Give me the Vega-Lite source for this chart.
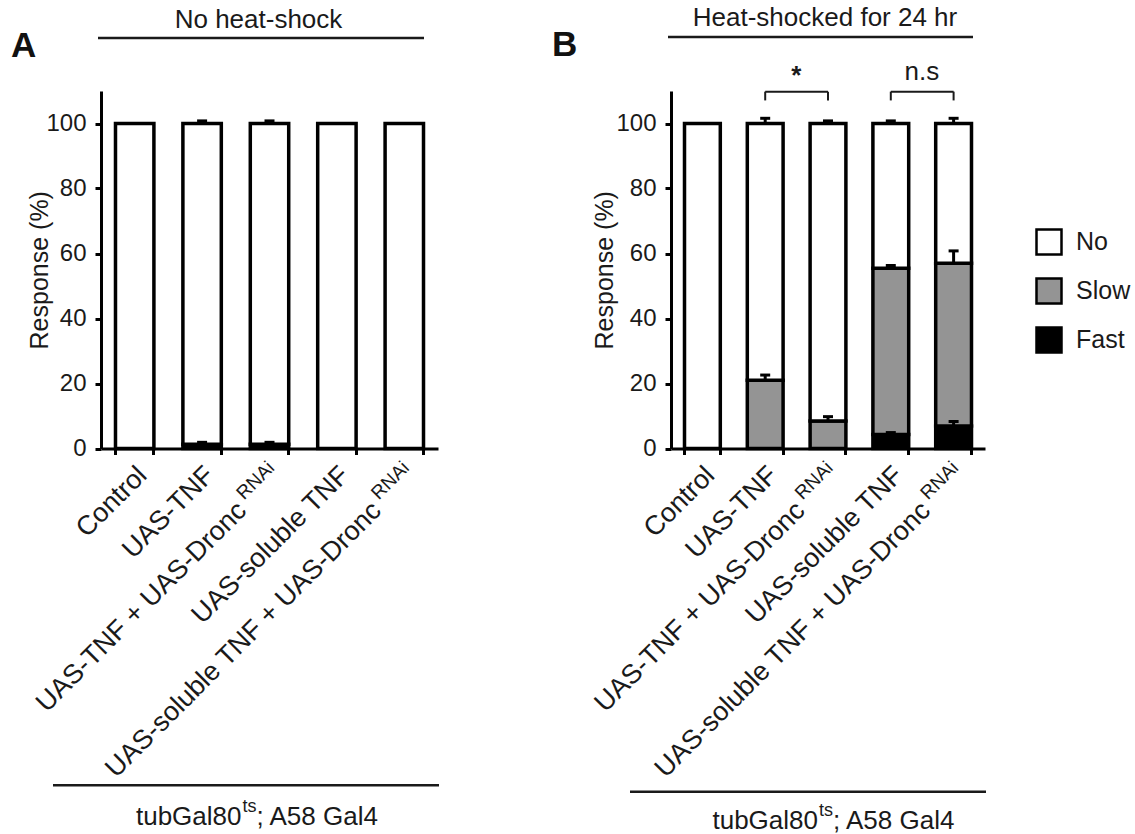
{
  "$schema": "https://vega.github.io/schema/vega-lite/v6.json",
  "padding": {"left": 10, "top": 5, "right": 5, "bottom": 0},
  "background": "white",
  "bounds": "flush",
  "spacing": 233,
  "resolve": {"scale": {"color": "independent"}, "legend": {"color": "independent"}},
  "config": {
    "view": {"stroke": null},
    "font": "Liberation Sans",
    "text": {"font": "Liberation Sans", "color": "#1a1a1a"},
    "axis": {"domainColor": "black", "tickColor": "black", "labelColor": "#1a1a1a", "titleColor": "#1a1a1a", "grid": false, "labelFont": "Liberation Sans", "titleFont": "Liberation Sans"},
    "legend": {"labelFont": "Liberation Sans"}
  },
  "datasets": {
    "barsA": [
      {"g": "Control", "r": "No", "lo": 0, "hi": 100, "eh": null},
      {"g": "TNF", "r": "Fast", "lo": 0, "hi": 1.3, "eh": 1.9},
      {"g": "TNF", "r": "No", "lo": 1.3, "hi": 100, "eh": 100.8},
      {"g": "TNF+RNAi", "r": "Fast", "lo": 0, "hi": 1.3, "eh": 1.9},
      {"g": "TNF+RNAi", "r": "No", "lo": 1.3, "hi": 100, "eh": 100.8},
      {"g": "sTNF", "r": "No", "lo": 0, "hi": 100, "eh": null},
      {"g": "sTNF+RNAi", "r": "No", "lo": 0, "hi": 100, "eh": null}
    ],
    "barsB": [
      {"g": "Control", "r": "No", "lo": 0, "hi": 100, "eh": null},
      {"g": "TNF", "r": "Slow", "lo": 0, "hi": 21, "eh": 22.6},
      {"g": "TNF", "r": "No", "lo": 21, "hi": 100, "eh": 101.6},
      {"g": "TNF+RNAi", "r": "Slow", "lo": 0, "hi": 8.5, "eh": 9.8},
      {"g": "TNF+RNAi", "r": "No", "lo": 8.5, "hi": 100, "eh": 100.8},
      {"g": "sTNF", "r": "Fast", "lo": 0, "hi": 4.3, "eh": 4.9},
      {"g": "sTNF", "r": "Slow", "lo": 4.3, "hi": 55.5, "eh": 56.3},
      {"g": "sTNF", "r": "No", "lo": 55.5, "hi": 100, "eh": 100.8},
      {"g": "sTNF+RNAi", "r": "Fast", "lo": 0, "hi": 6.9, "eh": 8.3},
      {"g": "sTNF+RNAi", "r": "Slow", "lo": 6.9, "hi": 57, "eh": 60.8},
      {"g": "sTNF+RNAi", "r": "No", "lo": 57, "hi": 100, "eh": 101.6}
    ],
    "labels": [
      {"g": "Control", "main": "Control", "sup": null},
      {"g": "TNF", "main": "UAS-TNF", "sup": null},
      {"g": "TNF+RNAi", "main": "UAS-TNF + UAS-Dronc", "sup": "RNAi"},
      {"g": "sTNF", "main": "UAS-soluble TNF", "sup": null},
      {"g": "sTNF+RNAi", "main": "UAS-soluble TNF + UAS-Dronc", "sup": "RNAi"}
    ],
    "brackets": [
      {"a": "TNF", "b": "TNF+RNAi"},
      {"a": "sTNF", "b": "sTNF+RNAi"}
    ]
  },
  "hconcat": [
    {
      "width": 337,
      "height": 357.5,
      "layer": [
        {
          "data": {"name": "barsA"},
          "mark": {"type": "bar", "stroke": "black", "strokeWidth": 3.5},
          "encoding": {
            "x": {"field": "g", "type": "nominal", "sort": null,
              "scale": {"domain": ["Control", "TNF", "TNF+RNAi", "sTNF", "sTNF+RNAi"], "paddingInner": 0.43, "paddingOuter": 0.215},
              "axis": {"title": null, "labels": false, "tickSize": 6, "tickWidth": 3, "domainWidth": 3, "bandPosition": 1, "tickExtra": true}},
            "y": {"field": "lo", "type": "quantitative",
              "scale": {"domain": [0, 110], "nice": false, "zero": false},
              "axis": {"title": "Response (%)", "values": [0, 20, 40, 60, 80, 100], "tickSize": 6, "tickWidth": 3, "domainWidth": 3, "labelFontSize": 24, "labelPadding": 9, "titleFontSize": 25, "titleFontWeight": "normal", "titlePadding": -7}},
            "y2": {"field": "hi"},
            "color": {"field": "r", "type": "nominal", "scale": {"domain": ["No", "Slow", "Fast"], "range": ["white", "#949494", "black"]}, "legend": null}
          }
        },
        {
          "data": {"name": "barsA"},
          "transform": [{"filter": {"field": "eh", "valid": true}}],
          "mark": {"type": "rule", "strokeWidth": 3, "color": "black"},
          "encoding": {"x": {"field": "g", "type": "nominal"}, "y": {"field": "hi", "type": "quantitative"}, "y2": {"field": "eh"}}
        },
        {
          "data": {"name": "barsA"},
          "transform": [{"filter": {"field": "eh", "valid": true}}],
          "mark": {"type": "tick", "size": 10, "thickness": 3, "color": "black", "opacity": 1},
          "encoding": {"x": {"field": "g", "type": "nominal"}, "y": {"field": "eh", "type": "quantitative"}}
        },
        {
          "data": {"name": "labels"},
          "transform": [{"filter": "datum.sup == null"}],
          "mark": {"type": "text", "angle": 315, "align": "right", "baseline": "middle", "fontSize": 27, "xOffset": 8},
          "encoding": {"x": {"field": "g", "type": "nominal"}, "y": {"datum": -7}, "text": {"field": "main"}}
        },
        {
          "data": {"name": "labels"},
          "transform": [{"filter": "datum.sup != null"}],
          "mark": {"type": "text", "angle": 315, "align": "right", "baseline": "middle", "fontSize": 27, "xOffset": 8, "dx": -50},
          "encoding": {"x": {"field": "g", "type": "nominal"}, "y": {"datum": -7}, "text": {"field": "main"}}
        },
        {
          "data": {"name": "labels"},
          "transform": [{"filter": "datum.sup != null"}],
          "mark": {"type": "text", "angle": 315, "align": "right", "baseline": "middle", "fontSize": 19, "xOffset": 8, "dy": -9},
          "encoding": {"x": {"field": "g", "type": "nominal"}, "y": {"datum": -7}, "text": {"field": "sup"}}
        },
        {
          "data": {"values": [{"t": "No heat-shock"}]},
          "mark": {"type": "text", "align": "center", "baseline": "middle", "fontSize": 26, "xOffset": -11},
          "encoding": {"x": {"datum": "TNF+RNAi"}, "y": {"datum": 132.0}, "text": {"field": "t"}}
        },
        {
          "data": {"values": [{"t": "line"}]},
          "mark": {"type": "rule", "strokeWidth": 2.5, "color": "#1a1a1a", "xOffset": -36.7, "x2Offset": 19.7},
          "encoding": {"x": {"datum": "Control"}, "x2": {"datum": "sTNF+RNAi"}, "y": {"datum": 126.3}}
        },
        {
          "data": {"values": [{"t": "line"}]},
          "mark": {"type": "rule", "strokeWidth": 2.5, "color": "#1a1a1a", "xOffset": -81.7, "x2Offset": 34.7},
          "encoding": {"x": {"datum": "Control"}, "x2": {"datum": "sTNF+RNAi"}, "y": {"datum": -103.6}}
        },
        {
          "data": {"values": [{"t": "tubGal80"}]},
          "mark": {"type": "text", "align": "right", "baseline": "middle", "fontSize": 26, "xOffset": -28},
          "encoding": {"x": {"datum": "TNF+RNAi"}, "y": {"datum": -113.3}, "text": {"field": "t"}}
        },
        {
          "data": {"values": [{"t": "ts"}]},
          "mark": {"type": "text", "align": "left", "baseline": "middle", "fontSize": 18, "xOffset": -27, "dy": -10},
          "encoding": {"x": {"datum": "TNF+RNAi"}, "y": {"datum": -113.3}, "text": {"field": "t"}}
        },
        {
          "data": {"values": [{"t": "; A58 Gal4"}]},
          "mark": {"type": "text", "align": "left", "baseline": "middle", "fontSize": 26, "xOffset": -28, "dx": 15},
          "encoding": {"x": {"datum": "TNF+RNAi"}, "y": {"datum": -113.3}, "text": {"field": "t"}}
        },
        {
          "data": {"values": [{"t": "A"}]},
          "mark": {"type": "text", "align": "left", "baseline": "middle", "fontSize": 35, "fontWeight": "bold", "color": "#111", "xOffset": -123.7},
          "encoding": {"x": {"datum": "Control"}, "y": {"datum": 123.7}, "text": {"field": "t"}}
        }
      ]
    },
    {
      "width": 314,
      "height": 357.5,
      "layer": [
        {
          "data": {"name": "barsB"},
          "mark": {"type": "bar", "stroke": "black", "strokeWidth": 3.5},
          "encoding": {
            "x": {"field": "g", "type": "nominal", "sort": null,
              "scale": {"domain": ["Control", "TNF", "TNF+RNAi", "sTNF", "sTNF+RNAi"], "paddingInner": 0.43, "paddingOuter": 0.215},
              "axis": {"title": null, "labels": false, "tickSize": 6, "tickWidth": 3, "domainWidth": 3, "bandPosition": 1, "tickExtra": true}},
            "y": {"field": "lo", "type": "quantitative",
              "scale": {"domain": [0, 110], "nice": false, "zero": false},
              "axis": {"title": "Response (%)", "values": [0, 20, 40, 60, 80, 100], "tickSize": 6, "tickWidth": 3, "domainWidth": 3, "labelFontSize": 24, "labelPadding": 9, "titleFontSize": 25, "titleFontWeight": "normal", "titlePadding": -2}},
            "y2": {"field": "hi"},
            "color": {"field": "r", "type": "nominal", "scale": {"domain": ["No", "Slow", "Fast"], "range": ["white", "#949494", "black"]},
              "legend": {"title": null, "orient": "none", "legendX": 364, "legendY": 137, "padding": 0, "symbolType": "square", "symbolSize": 625, "symbolStrokeColor": "black", "symbolStrokeWidth": 2.5, "symbolOpacity": 1, "labelFontSize": 25, "labelColor": "#1a1a1a", "labelOffset": 13, "rowPadding": 13}}
          }
        },
        {
          "data": {"name": "barsB"},
          "transform": [{"filter": {"field": "eh", "valid": true}}],
          "mark": {"type": "rule", "strokeWidth": 3, "color": "black"},
          "encoding": {"x": {"field": "g", "type": "nominal"}, "y": {"field": "hi", "type": "quantitative"}, "y2": {"field": "eh"}}
        },
        {
          "data": {"name": "barsB"},
          "transform": [{"filter": {"field": "eh", "valid": true}}],
          "mark": {"type": "tick", "size": 10, "thickness": 3, "color": "black", "opacity": 1},
          "encoding": {"x": {"field": "g", "type": "nominal"}, "y": {"field": "eh", "type": "quantitative"}}
        },
        {
          "data": {"name": "labels"},
          "transform": [{"filter": "datum.sup == null"}],
          "mark": {"type": "text", "angle": 315, "align": "right", "baseline": "middle", "fontSize": 27, "xOffset": 8},
          "encoding": {"x": {"field": "g", "type": "nominal"}, "y": {"datum": -7}, "text": {"field": "main"}}
        },
        {
          "data": {"name": "labels"},
          "transform": [{"filter": "datum.sup != null"}],
          "mark": {"type": "text", "angle": 315, "align": "right", "baseline": "middle", "fontSize": 27, "xOffset": 8, "dx": -50},
          "encoding": {"x": {"field": "g", "type": "nominal"}, "y": {"datum": -7}, "text": {"field": "main"}}
        },
        {
          "data": {"name": "labels"},
          "transform": [{"filter": "datum.sup != null"}],
          "mark": {"type": "text", "angle": 315, "align": "right", "baseline": "middle", "fontSize": 19, "xOffset": 8, "dy": -9},
          "encoding": {"x": {"field": "g", "type": "nominal"}, "y": {"datum": -7}, "text": {"field": "sup"}}
        },
        {
          "data": {"values": [{"t": "Heat-shocked for 24 hr"}]},
          "mark": {"type": "text", "align": "center", "baseline": "middle", "fontSize": 26, "xOffset": -3},
          "encoding": {"x": {"datum": "TNF+RNAi"}, "y": {"datum": 132.4}, "text": {"field": "t"}}
        },
        {
          "data": {"values": [{"t": "line"}]},
          "mark": {"type": "rule", "strokeWidth": 2.5, "color": "#1a1a1a", "xOffset": -34.4, "x2Offset": 19.4},
          "encoding": {"x": {"datum": "Control"}, "x2": {"datum": "sTNF+RNAi"}, "y": {"datum": 126.6}}
        },
        {
          "data": {"name": "brackets"},
          "mark": {"type": "rule", "strokeWidth": 2, "color": "#1a1a1a"},
          "encoding": {"x": {"field": "a", "type": "nominal"}, "x2": {"field": "b"}, "y": {"datum": 109.8}}
        },
        {
          "data": {"name": "brackets"},
          "mark": {"type": "rule", "strokeWidth": 2, "color": "#1a1a1a"},
          "encoding": {"x": {"field": "a", "type": "nominal"}, "y": {"datum": 109.8}, "y2": {"datum": 107.1}}
        },
        {
          "data": {"name": "brackets"},
          "mark": {"type": "rule", "strokeWidth": 2, "color": "#1a1a1a"},
          "encoding": {"x": {"field": "b", "type": "nominal"}, "y": {"datum": 109.8}, "y2": {"datum": 107.1}}
        },
        {
          "data": {"values": [{"t": "*"}]},
          "mark": {"type": "text", "align": "center", "baseline": "middle", "fontSize": 26, "fontWeight": "bold", "xOffset": 31},
          "encoding": {"x": {"datum": "TNF"}, "y": {"datum": 114.5}, "text": {"field": "t"}}
        },
        {
          "data": {"values": [{"t": "n.s"}]},
          "mark": {"type": "text", "align": "center", "baseline": "middle", "fontSize": 26, "xOffset": 31},
          "encoding": {"x": {"datum": "sTNF"}, "y": {"datum": 115.8}, "text": {"field": "t"}}
        },
        {
          "data": {"values": [{"t": "line"}]},
          "mark": {"type": "rule", "strokeWidth": 2.5, "color": "#1a1a1a", "xOffset": -72.4, "x2Offset": 32.4},
          "encoding": {"x": {"datum": "Control"}, "x2": {"datum": "sTNF+RNAi"}, "y": {"datum": -105.6}}
        },
        {
          "data": {"values": [{"t": "tubGal80"}]},
          "mark": {"type": "text", "align": "right", "baseline": "middle", "fontSize": 26, "xOffset": -10},
          "encoding": {"x": {"datum": "TNF+RNAi"}, "y": {"datum": -114.6}, "text": {"field": "t"}}
        },
        {
          "data": {"values": [{"t": "ts"}]},
          "mark": {"type": "text", "align": "left", "baseline": "middle", "fontSize": 18, "xOffset": -9, "dy": -10},
          "encoding": {"x": {"datum": "TNF+RNAi"}, "y": {"datum": -114.6}, "text": {"field": "t"}}
        },
        {
          "data": {"values": [{"t": "; A58 Gal4"}]},
          "mark": {"type": "text", "align": "left", "baseline": "middle", "fontSize": 26, "xOffset": -10, "dx": 15},
          "encoding": {"x": {"datum": "TNF+RNAi"}, "y": {"datum": -114.6}, "text": {"field": "t"}}
        },
        {
          "data": {"values": [{"t": "B"}]},
          "mark": {"type": "text", "align": "left", "baseline": "middle", "fontSize": 35, "fontWeight": "bold", "color": "#111", "xOffset": -150.4},
          "encoding": {"x": {"datum": "Control"}, "y": {"datum": 124.3}, "text": {"field": "t"}}
        }
      ]
    }
  ]
}
